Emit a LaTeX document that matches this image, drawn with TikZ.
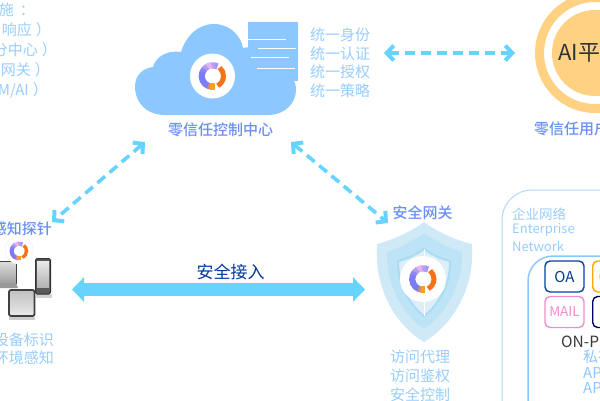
\documentclass[tikz,border=0pt]{standalone}
\usepackage{fontspec}
\setmainfont{Noto Sans CJK SC}
\newfontfamily\cjkmed{Noto Sans CJK SC Medium}
\usetikzlibrary{arrows.meta,calc}
\definecolor{cloudblue}{HTML}{8CC8FF}
\definecolor{paleblue}{HTML}{98CEFF}
\definecolor{titleblue}{HTML}{6A90F5}
\definecolor{cyanarrow}{HTML}{66D4FF}
\definecolor{aiorange}{HTML}{FFD182}
\definecolor{shieldA}{HTML}{CFE9F6}
\definecolor{shieldB}{HTML}{BDE3F6}
\definecolor{shieldC}{HTML}{DCEFF9}
\definecolor{shieldD}{HTML}{A9DCF3}
\definecolor{lgA}{HTML}{E3B4F2}
\definecolor{lgB}{HTML}{7C7CF5}
\definecolor{lgC}{HTML}{FF9E1F}
\definecolor{lgD}{HTML}{F5741A}
\tikzset{
  x=1pt,y=-1pt,
  paletext/.style={text=paleblue,inner sep=0pt,font=\fontsize{15}{15}\selectfont},
  titletext/.style={text=titleblue,inner sep=0pt,font=\fontsize{15}{15}\cjkmed},
  dasharrow/.style={draw=cyanarrow,line width=3.6pt,dash pattern=on 10pt off 6pt,
     {Straight Barb[length=7pt,width=15pt,line width=4pt]}-{Straight Barb[length=7pt,width=15pt,line width=4pt]}},
  bigarrow/.style={draw=cyanarrow,line width=12.5pt,
     {Triangle[length=12pt,width=24pt]}-{Triangle[length=12pt,width=24pt]}},
  appbox/.style={draw=#1,line width=1.4pt,rounded corners=5pt,fill=white}
}
\newcommand{\zlogo}[4]{%
  \begin{scope}[shift={(#1,#2)},yscale=-1]
    \fill[white] (0,0) circle[radius=#3];
    \foreach \a/\e/\c in {62/80/lgB!55!lgA,75/100/lgB!40!lgA,95/125/lgA,120/145/lgA!55!lgB,140/165/lgB!85!lgA,160/250/lgB,245/262/lgB!45!lgC,258/282/lgC}
      {\draw[draw=\c,line width=6.2*#4 pt] (\a:10.8*#4) arc[start angle=\a,end angle=\e,radius=10.8*#4];}
    \draw[draw=lgD,line width=5*#4 pt] (-62:11*#4) arc[start angle=-62,end angle=50,radius=11*#4];
  \end{scope}}
\begin{document}
\begin{tikzpicture}
\useasboundingbox (0,0) rectangle (600,400);
\clip (0,0) rectangle (600,400);
\fill[white] (0,0) rectangle (600,400);

% left clipped text
\node[paletext,anchor=east] (l1) at (35,10) {施\hspace{6pt}：};
\node[paletext,anchor=east] (l2) at (51,30) {响应\hspace{4pt}）};
\node[paletext,anchor=east] (l3) at (57,50) {分中心\hspace{4pt}）};
\node[paletext,anchor=east] (l4) at (50,70) {网关\hspace{4pt}）};
\node[paletext,anchor=east] (l5) at (48,90) {M/AI\hspace{4pt}）};

% cloud
\fill[cloudblue] (165,115)
  .. controls (146,115) and (135,102) .. (135,87)
  .. controls (135,74) and (144,68) .. (153,67)
  .. controls (156,56) and (168,50) .. (181,52)
  .. controls (186,36) and (198,24) .. (214,24)
  .. controls (230,24) and (241,36) .. (243,48)
  .. controls (262,44) and (279,54) .. (284,71)
  .. controls (292,74) and (296,82) .. (296,90)
  .. controls (296,104) and (284,115) .. (268,115) -- cycle;
\node[fill=cloudblue,minimum width=50pt,minimum height=59pt,inner sep=0pt,anchor=north west] (doc) at (248,22) {};
\foreach \xa/\xb/\yy in {248/286/39,258/296/48,251/289/57,257/295/68}
  \draw[white,line width=0.9pt] (\xa,\yy) -- (\xb,\yy);
\zlogo{212.5}{76}{22.5}{1}
\node[titletext] (cloudtitle) at (220.5,129.5) {零信任控制中心};

% right of cloud
\node[paletext,anchor=west] (u1) at (310,35) {统一身份};
\node[paletext,anchor=west] (u2) at (310,54) {统一认证};
\node[paletext,anchor=west] (u3) at (310,72) {统一授权};
\node[paletext,anchor=west] (u4) at (310,91) {统一策略};

% AI circle
\node[circle,draw=aiorange,line width=9pt,minimum size=111pt,inner sep=0pt] (airing) at (595,53) {};
\node[circle,fill=aiorange,minimum size=86pt,inner sep=0pt] (aidisc) at (595,53) {};
\node[anchor=west,inner sep=0pt,text=black!80,font=\fontsize{22}{22}\selectfont] (aitext) at (558,52) {AI平台};
\node[titletext,anchor=west] (aititle) at (534,129) {零信任用户};

% shield
\fill[shieldA] (424,222) .. controls (407,234) and (392,240) .. (377,244)
  .. controls (374,290) and (396,325) .. (424,342)
  .. controls (452,325) and (475,290) .. (472,244)
  .. controls (456,240) and (441,234) .. (424,222) -- cycle;
\fill[shieldB] (424,233) .. controls (411,242) and (399,248) .. (387,252)
  .. controls (386,285) and (403,315) .. (424,329)
  .. controls (445,315) and (463,285) .. (462,252)
  .. controls (449,248) and (437,242) .. (424,233) -- cycle;
\filldraw[fill=shieldC,draw=shieldD,line width=2pt] (424,249) .. controls (415,255) and (407,259) .. (398,261)
  .. controls (398,283) and (409,305) .. (424,316)
  .. controls (439,305) and (451,283) .. (450,261)
  .. controls (441,259) and (433,255) .. (424,249) -- cycle;
\draw[white,line width=1pt] (424,249) -- (424,316);
\zlogo{423}{279}{23}{1}
\node[titletext] (gwtitle) at (422.5,213) {安全网关};
\node[paletext,anchor=west] (g1) at (390,357) {访问代理};
\node[paletext,anchor=west] (g2) at (390,376) {访问鉴权};
\node[paletext,anchor=west] (g3) at (390,395) {安全控制};

% probe
\node[titletext,anchor=east] (ptitle) at (52,229) {感知探针};
% laptop
\draw[draw=black!75,line width=0.9pt,top color=black!12,bottom color=black!38] (-12,261) rectangle (16,283);
\fill[black!40] (-12,283) -- (16,283) -- (18,288) -- (-12,288) -- cycle;
% phone
\fill[black!18] (36,294) rectangle (52,298);
\draw[draw=black!80,line width=1pt,fill=black!65,rounded corners=1.5pt] (35.5,258.5) rectangle (50.5,294);
\fill[top color=black!8,bottom color=black!30] (37,261) rectangle (49,287);
% tablet
\fill[black!20] (9,317) rectangle (35,320);
\draw[draw=black!75,line width=1.8pt,rounded corners=2pt,top color=black!25,bottom color=black!8] (9,290) rectangle (34.5,316);
\draw[black!6,line width=0.5pt,fill=white] (19,250) circle[radius=14];
\zlogo{19}{251}{13}{0.68}
\node[paletext,anchor=east] (p1) at (54,340) {设备标识};
\node[paletext,anchor=east] (p2) at (54,358) {环境感知};

% enterprise
\draw[draw=cloudblue!70,line width=1pt,rounded corners=30pt] (502,190) rectangle (640,440);
\draw[draw=cloudblue,line width=1.5pt,rounded corners=25pt] (528,256) rectangle (640,430);
\node[anchor=west,inner sep=0pt,text=paleblue,font=\fontsize{13.5}{13.5}\selectfont] (e1) at (512,214) {企业网络};
\node[anchor=west,inner sep=0pt,text=paleblue,font=\fontsize{13}{13}\selectfont] (e2) at (512,230) {Enterprise};
\node[anchor=west,inner sep=0pt,text=paleblue,font=\fontsize{13}{13}\selectfont] (e3) at (512,246) {Network};
\node[appbox=black!10!teal!60!blue,minimum width=39pt,minimum height=31pt,text=black!30!teal!70!blue,inner sep=0pt,font=\fontsize{15}{15}\selectfont] (oa) at (564.5,276.5) {OA};
\node[appbox=orange!70!yellow,minimum width=39pt,minimum height=31pt,text=orange!70!yellow,inner sep=0pt,anchor=west,font=\fontsize{15}{15}\selectfont] (crm) at (592,276.5) {\hspace{4pt}CRM\hspace{8pt}};
\node[appbox=magenta!45,minimum width=39pt,minimum height=31pt,text=magenta!45,inner sep=0pt,font=\fontsize{13.5}{13.5}\selectfont] (mail) at (564.5,312) {MAIL};
\node[appbox=blue!40!black,minimum width=39pt,minimum height=31pt,inner sep=0pt,anchor=west] (navy) at (592,312) {};
\node[anchor=west,inner sep=0pt,text=black!78,font=\fontsize{15.5}{15.5}\selectfont] (op) at (561,342) {ON-PREMISE};
\node[paletext,anchor=west,text=cloudblue] (op1) at (583,357) {私有};
\node[paletext,anchor=west,text=cloudblue,font=\fontsize{15}{15}\selectfont] (op2) at (583,373) {API};
\node[paletext,anchor=west,text=cloudblue,font=\fontsize{15}{15}\selectfont] (op3) at (583,388) {API};

% connectors
\coordinate (cl) at (145,142);
\coordinate (cr) at (291,142);
\coordinate (pr) at (52,222);
\coordinate (gl) at (388,223);
\coordinate (ur) at (384,53);
\coordinate (al) at (515,53);
\coordinate (pa) at (72,289.5);
\coordinate (ga) at (365,289.5);
\draw[dasharrow] (cl) -- (pr);
\draw[dasharrow] (cr) -- (gl);
\draw[dasharrow] (ur) -- (al);
\draw[bigarrow] (pa) -- (ga);
\node[inner sep=0pt,text=black!30!teal!60!blue,font=\fontsize{17}{17}\selectfont] (sa) at (230.5,272) {安全接入};
\end{tikzpicture}
\end{document}
